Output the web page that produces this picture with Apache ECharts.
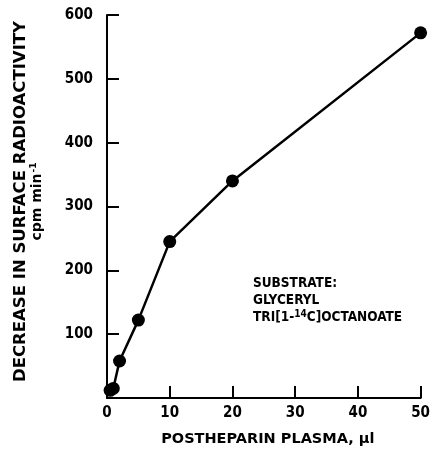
<!DOCTYPE html>
<html>
<head>
<meta charset="utf-8">
<script src="https://cdn.jsdelivr.net/npm/echarts@6/dist/echarts.min.js"></script>
<style>
  html, body { margin: 0; padding: 0; background: #fff; }
  #chart { width: 433px; height: 454px; }
</style>
</head>
<body>
<div id="chart"></div>
<script>
// plasma volume (ul) and decrease in surface radioactivity (cpm/min)
const plasmaUl = [0.5, 1, 2, 5, 10, 20, 50];
const radioactivity = [12, 15, 58, 122, 245, 340, 572];
const xTicks = [0, 10, 20, 30, 40, 50];
const yTicks = [100, 200, 300, 400, 500, 600];

const font = 'DejaVu Sans';
const narrow = '"DejaVu Sans Condensed", "Liberation Sans Narrow", "DejaVu Sans"';
const narrower = '"Liberation Sans Narrow", "DejaVu Sans Condensed", "DejaVu Sans"';
const chart = echarts.init(document.getElementById('chart'));

const points = plasmaUl.map((x, i) => [x, radioactivity[i]]);

chart.setOption({
  animation: false,
  grid: { left: 107, right: 6, top: 15, bottom: 56 },
  xAxis: {
    type: 'value',
    min: 0,
    max: 50,
    interval: 10,
    name: 'POSTHEPARIN PLASMA, μl',
    nameLocation: 'middle',
    nameGap: 34,
    nameTextStyle: { fontFamily: font, fontWeight: 'bold', fontSize: 14.5, color: '#000', padding: [0, 0, 0, 8] },
    axisLine: { lineStyle: { color: '#000', width: 2 } },
    axisTick: { inside: true, length: 12, lineStyle: { color: '#000', width: 2 } },
    axisLabel: {
      margin: 8,
      fontFamily: narrow, fontWeight: 'bold', fontSize: 15, color: '#000',
      formatter: v => xTicks.includes(v) ? String(v) : ''
    },
    splitLine: { show: false }
  },
  yAxis: {
    type: 'value',
    min: 0,
    max: 600,
    interval: 100,
    name: 'DECREASE IN SURFACE RADIOACTIVITY\n{n|cpm min}{sup|-1}',
    nameLocation: 'middle',
    nameRotate: 90,
    nameGap: 61,
    nameTextStyle: {
      fontFamily: font, fontWeight: 'bold', fontSize: 16.5, color: '#000', lineHeight: 17,
      padding: [0, 0, 0, 10],
      rich: {
        n: { fontFamily: font, fontWeight: 'bold', fontSize: 14, color: '#000' },
        sup: { fontFamily: font, fontWeight: 'bold', fontSize: 9, color: '#000', verticalAlign: 'top', padding: [0, 0, 6, 1] }
      }
    },
    axisLine: { show: true, lineStyle: { color: '#000', width: 2 } },
    axisTick: { show: true, inside: true, length: 12, lineStyle: { color: '#000', width: 2 } },
    axisLabel: {
      margin: 14,
      fontFamily: narrow, fontWeight: 'bold', fontSize: 15, color: '#000',
      formatter: v => yTicks.includes(v) ? String(v) : ''
    },
    splitLine: { show: false }
  },
  graphic: [{
    type: 'text',
    left: 253,
    top: 275,
    style: {
      text: 'SUBSTRATE:\nGLYCERYL\nTRI[1-{sup|14}C]OCTANOATE',
      fontFamily: narrower, fontWeight: 'bold', fontSize: 13.5, lineHeight: 17, fill: '#000',
      rich: {
        sup: { fontFamily: narrower, fontWeight: 'bold', fontSize: 10, verticalAlign: 'top', padding: [0, 0, 6, 0] }
      }
    }
  }],
  series: [{
    type: 'line',
    data: points,
    symbol: 'circle',
    symbolSize: 13,
    itemStyle: { color: '#000' },
    lineStyle: { color: '#000', width: 2.5 }
  }]
});
</script>
</body>
</html>
